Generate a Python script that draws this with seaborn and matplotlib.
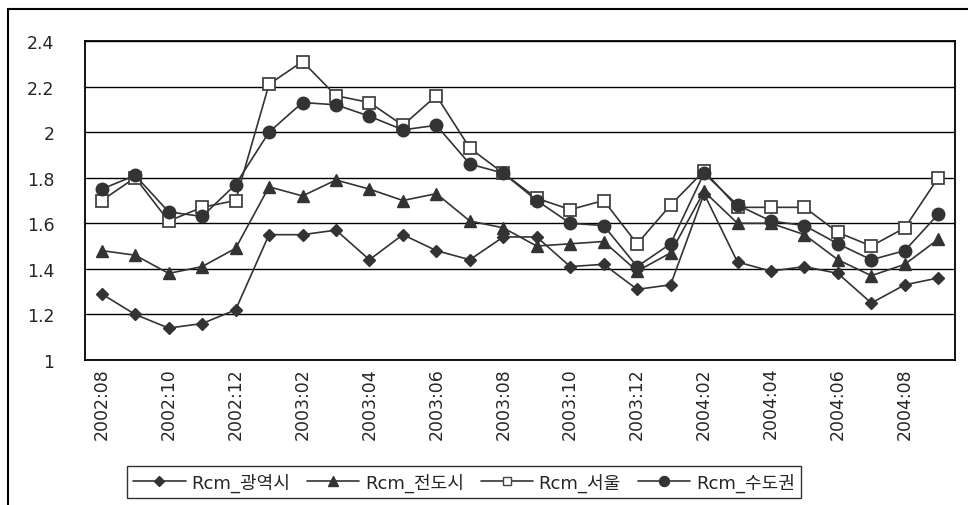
import matplotlib
matplotlib.use("Agg")
import matplotlib.pyplot as plt
import seaborn as sns
import pandas as pd
import numpy as np
from matplotlib.lines import Line2D
from matplotlib.ticker import FixedLocator

months = ["2002:08", "2002:09", "2002:10", "2002:11", "2002:12",
          "2003:01", "2003:02", "2003:03", "2003:04", "2003:05", "2003:06",
          "2003:07", "2003:08", "2003:09", "2003:10", "2003:11", "2003:12",
          "2004:01", "2004:02", "2004:03", "2004:04", "2004:05", "2004:06",
          "2004:07", "2004:08", "2004:09"]

gwangyeok = [1.29, 1.20, 1.14, 1.16, 1.22, 1.55, 1.55, 1.57, 1.44, 1.55, 1.48,
             1.44, 1.54, 1.54, 1.41, 1.42, 1.31, 1.33, 1.73, 1.43, 1.39, 1.41,
             1.38, 1.25, 1.33, 1.36]
jeondo = [1.48, 1.46, 1.38, 1.41, 1.49, 1.76, 1.72, 1.79, 1.75, 1.70, 1.73,
          1.61, 1.58, 1.50, 1.51, 1.52, 1.39, 1.47, 1.74, 1.60, 1.60, 1.55,
          1.44, 1.37, 1.42, 1.53]
seoul = [1.70, 1.80, 1.61, 1.67, 1.70, 2.21, 2.31, 2.16, 2.13, 2.03, 2.16,
         1.93, 1.82, 1.71, 1.66, 1.70, 1.51, 1.68, 1.83, 1.67, 1.67, 1.67,
         1.56, 1.50, 1.58, 1.80]
sudogwon = [1.75, 1.81, 1.65, 1.63, 1.77, 2.00, 2.13, 2.12, 2.07, 2.01, 2.03,
            1.86, 1.82, 1.70, 1.60, 1.59, 1.41, 1.51, 1.82, 1.68, 1.61, 1.59,
            1.51, 1.44, 1.48, 1.64]

series_names = ["Rcm_광역시", "Rcm_전도시", "Rcm_서울", "Rcm_수도권"]
series_values = [gwangyeok, jeondo, seoul, sudogwon]

rows = []
for name, vals in zip(series_names, series_values):
    for i, v in enumerate(vals):
        rows.append({"idx": i, "month": months[i], "value": v, "series": name})
df = pd.DataFrame(rows)

sns.set_theme(style="white")
plt.rcParams['font.family'] = ['DejaVu Sans', 'Noto Sans CJK KR']

fig = plt.figure(figsize=(9.68, 5.06), dpi=100)
W, H = 968, 506
ax = fig.add_axes([85 / W, 1 - 361 / H, (955 - 85) / W, (361 - 42) / H])

dark = "#333333"
styles = {
    "Rcm_광역시": dict(marker="D", markersize=6.5, markerfacecolor=dark, markeredgecolor=dark),
    "Rcm_전도시": dict(marker="^", markersize=9, markerfacecolor=dark, markeredgecolor=dark),
    "Rcm_서울": dict(marker="s", markersize=8, markerfacecolor="white", markeredgecolor="#444444",
                   markeredgewidth=1.3),
    "Rcm_수도권": dict(marker="o", markersize=9, markerfacecolor=dark, markeredgecolor=dark),
}

for name in series_names:
    sub = df[df["series"] == name]
    st = styles[name]
    sns.lineplot(data=sub, x="idx", y="value", ax=ax, color=dark, linewidth=1.2,
                 marker=st["marker"], markersize=st["markersize"],
                 markerfacecolor=st["markerfacecolor"], markeredgecolor=st["markeredgecolor"],
                 markeredgewidth=st.get("markeredgewidth", 1.0), legend=False, zorder=3)

ax.set_xlim(-0.5, len(months) - 0.5)
ax.set_ylim(1.0, 2.4)
ax.set_xlabel("")
ax.set_ylabel("")

yt = [1.0, 1.2, 1.4, 1.6, 1.8, 2.0, 2.2, 2.4]
ax.set_yticks(yt)
ax.set_yticklabels([("%g" % v) for v in yt], fontsize=12.5)
ax.yaxis.grid(True, color="black", linewidth=1.0)
ax.set_axisbelow(True)

ax.set_xticks(list(range(0, len(months), 2)))
ax.set_xticklabels(months[::2], rotation=90, fontsize=12.5)
ax.xaxis.set_minor_locator(FixedLocator(np.arange(-0.5, len(months), 1.0)))
ax.tick_params(axis="x", which="major", length=0, pad=5)
ax.tick_params(axis="x", which="minor", direction="in", length=6, width=1.0, color="black")
ax.tick_params(axis="y", which="major", direction="in", length=6, width=1.0, color="black", pad=22)

for sp in ax.spines.values():
    sp.set_visible(True)
    sp.set_color("black")
    sp.set_linewidth(1.3)

# outer chart-area frame (only top and left visible in crop)
fig.add_artist(Line2D([8 / W, 1.0], [1 - 10 / H, 1 - 10 / H], color="black", linewidth=1.5,
                      transform=fig.transFigure))
fig.add_artist(Line2D([8 / W, 8 / W], [0, 1 - 10 / H], color="black", linewidth=1.5,
                      transform=fig.transFigure))

handles = []
for name in series_names:
    st = styles[name]
    handles.append(Line2D([0], [0], color=dark, linewidth=1.2, marker=st["marker"],
                          markersize=st["markersize"] * 0.8,
                          markerfacecolor=st["markerfacecolor"],
                          markeredgecolor=st["markeredgecolor"]))
leg = fig.legend(handles, series_names, loc="center", bbox_to_anchor=(464 / W, 1 - 483 / H),
                 ncol=4, frameon=True, fancybox=False, handlelength=2.9,
                 handletextpad=0.3, columnspacing=0.95, borderpad=0.35,
                 prop={"family": ["DejaVu Sans", "Noto Sans CJK KR"], "size": 13})
leg.get_frame().set_edgecolor("black")
leg.get_frame().set_linewidth(1.0)

fig.savefig("out.png", dpi=100)
